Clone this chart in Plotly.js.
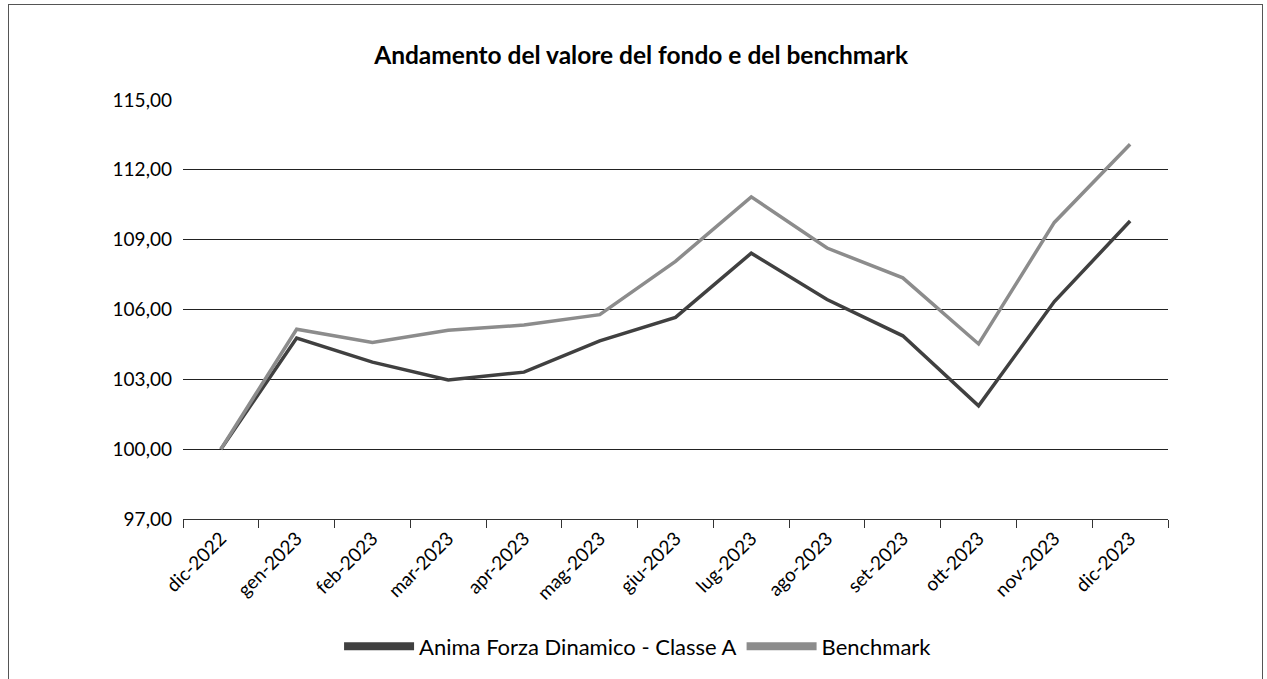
<!DOCTYPE html>
<html>
<head>
<meta charset="utf-8">
<script src="https://cdn.plot.ly/plotly-3.0.1.min.js"></script>
<style>
  html, body { margin: 0; padding: 0; background: #fff; }
  #chart { width: 1267px; height: 679px; }
  #frame { position: absolute; left: 8px; top: 4px; width: 1253px; height: 700px;
           border: 1px solid #555; pointer-events: none; }
</style>
</head>
<body>
<div id="chart"></div>
<div id="frame"></div>
<script>
// months shown on the category axis
const months = ['dic-2022', 'gen-2023', 'feb-2023', 'mar-2023', 'apr-2023', 'mag-2023', 'giu-2023',
  'lug-2023', 'ago-2023', 'set-2023', 'ott-2023', 'nov-2023', 'dic-2023'];

// values (base 100)
const fondo = [100.00, 104.77, 103.74, 102.97, 103.31, 104.65, 105.66, 108.42, 106.43, 104.87, 101.86, 106.34, 109.80];
const benchmark = [100.00, 105.15, 104.58, 105.11, 105.33, 105.78, 108.07, 110.84, 108.64, 107.36, 104.52, 109.74, 113.10];

const fondoName = 'Anima Forza Dinamico - Classe A';
const benchName = 'Benchmark';
const fondoColor = '#404040';
const benchColor = '#8c8c8c';

const traces = [
  { x: months, y: fondo, type: 'scatter', mode: 'lines', name: fondoName,
    line: { color: fondoColor, width: 3.5 }, showlegend: false },
  { x: months, y: benchmark, type: 'scatter', mode: 'lines', name: benchName,
    line: { color: benchColor, width: 3.5 }, showlegend: false },
  // legend entries only (thicker swatches like the original)
  { x: [null], y: [null], type: 'scatter', mode: 'lines', name: fondoName,
    line: { color: fondoColor, width: 8 } },
  { x: [null], y: [null], type: 'scatter', mode: 'lines', name: benchName,
    line: { color: benchColor, width: 8 } }
];

const layout = {
  width: 1267,
  height: 679,
  font: { family: 'Lato, "Open Sans", sans-serif', color: '#000' },
  separators: ',.',
  paper_bgcolor: '#fff',
  plot_bgcolor: '#fff',
  margin: { l: 183, r: 99, t: 100, b: 155 },
  title: {
    text: '<b>Andamento del valore del fondo e del benchmark</b>',
    font: { size: 24.5, color: '#000' },
    x: 0.506, xref: 'container', xanchor: 'center',
    y: 0.918, yref: 'container', yanchor: 'middle'
  },
  xaxis: {
    type: 'category',
    range: [-0.5, months.length - 0.5],
    tickson: 'boundaries',
    ticks: 'outside',
    ticklen: 8,
    tickcolor: '#333',
    showline: true,
    linecolor: '#333',
    linewidth: 1,
    showgrid: false,
    tickangle: -45,
    tickfont: { size: 19 },
    fixedrange: true
  },
  yaxis: {
    range: [97, 115],
    dtick: 3,
    tick0: 97,
    tickformat: '.2f',
    showgrid: true,
    gridcolor: '#222',
    gridwidth: 1,
    zeroline: false,
    showline: false,
    ticks: '',
    ticklabelstandoff: 10,
    tickfont: { size: 19 },
    fixedrange: true
  },
  showlegend: true,
  legend: {
    orientation: 'h',
    x: 0.462, xanchor: 'center',
    y: -0.304, yanchor: 'middle',
    font: { size: 22 },
    itemwidth: 70,
    traceorder: 'normal'
  }
};

Plotly.newPlot('chart', traces, layout, { displayModeBar: false, staticPlot: true });
</script>
</body>
</html>
